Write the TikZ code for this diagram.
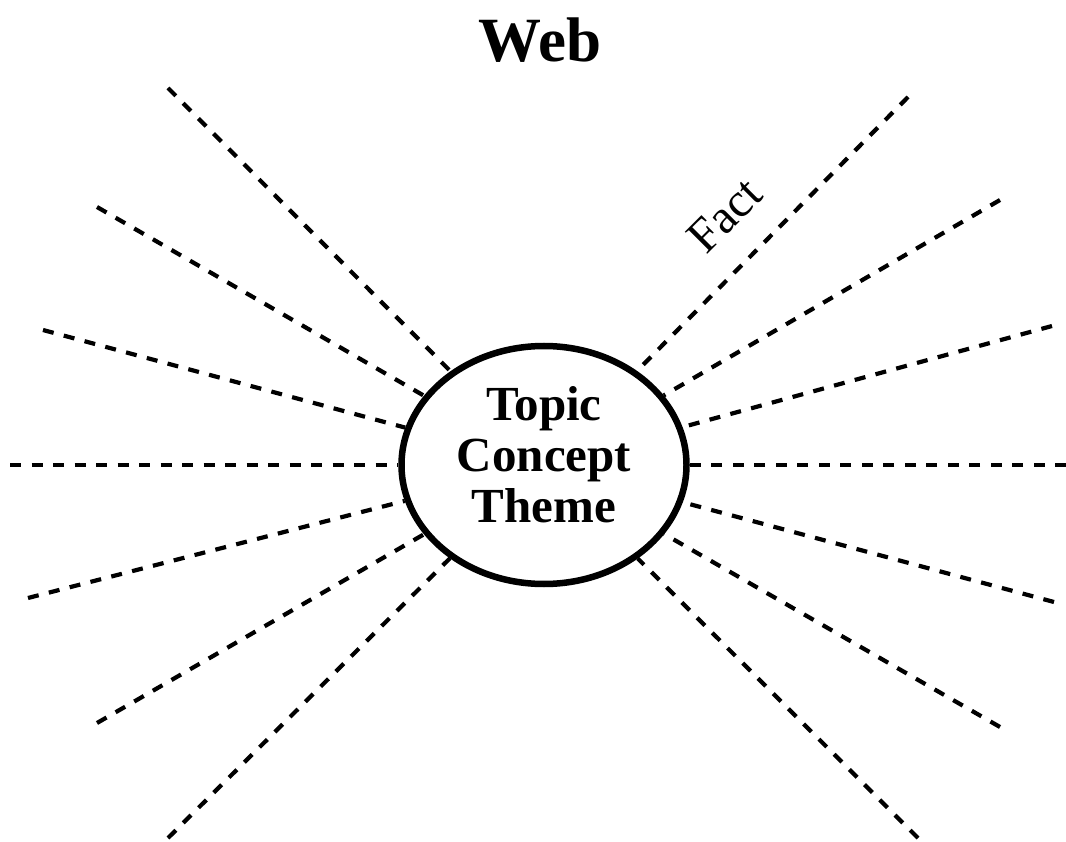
\documentclass[tikz,border=0pt]{standalone}
\usepackage{fontspec}
\setmainfont{Liberation Serif}
\usetikzlibrary{shapes.geometric}
\begin{document}
\begin{tikzpicture}[x=1pt,y=-1pt,
  spoke/.style={line width=4.2pt, dash pattern=on 11pt off 10.5pt},
  hub/.style={ellipse, draw, line width=6.5pt, minimum width=285pt,
    minimum height=238pt, inner sep=0pt},
  hubtext/.style={font=\bfseries\fontsize{49}{51}\selectfont, align=center},
  title/.style={font=\bfseries\fontsize{63}{63}\selectfont},
  factlabel/.style={font=\fontsize{48}{48}\selectfont, rotate=45}]
\useasboundingbox[fill=white] (0,0) rectangle (1066,842);

% central ellipse and its text
\node[hub] (hub) at (544,465) {};
\node[hubtext] (hubtxt) at (544,455) {Topic\\Concept\\Theme};

% free outer ends of the spokes
\coordinate (c1) at (168,88);
\coordinate (c2) at (97,207);
\coordinate (c3) at (43,330);
\coordinate (c4) at (10,465);
\coordinate (c5) at (28,598);
\coordinate (c6) at (97,723);
\coordinate (c7) at (168,838);
\coordinate (c8) at (908,97);
\coordinate (c9) at (1000,200);
\coordinate (c10) at (1052,326);
\coordinate (c11) at (1066,465);
\coordinate (c12) at (1054,602);
\coordinate (c13) at (1000,727);
\coordinate (c14) at (918,838);

% dashed spokes
\foreach \i in {1,...,14}
  \draw[spoke] (c\i) -- (hub);

% labels
\node[title] (web) at (540,40) {Web};
\node[factlabel] (fact) at (725,215) {Fact};
\end{tikzpicture}
\end{document}
